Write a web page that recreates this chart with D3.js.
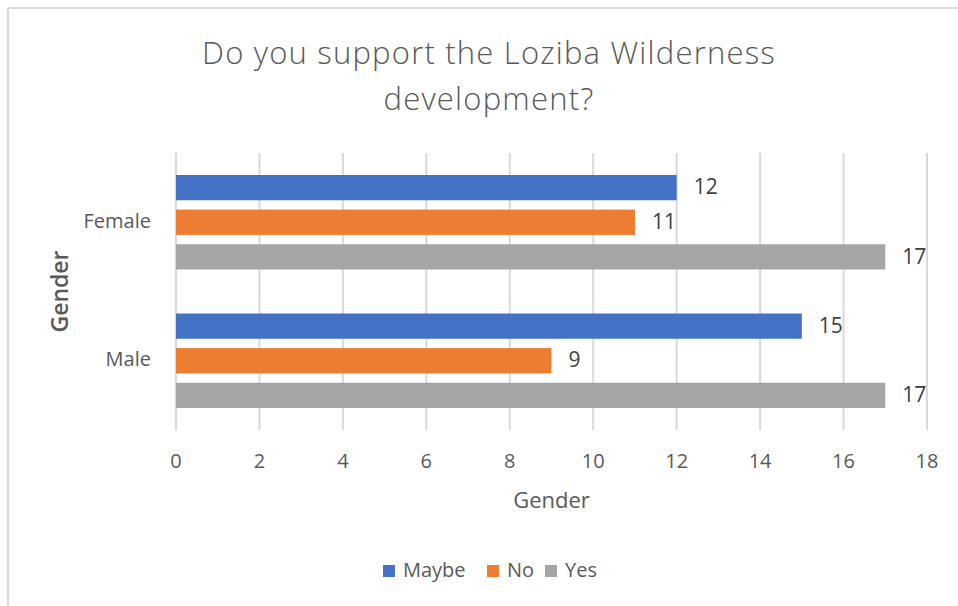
<!DOCTYPE html>
<html>
<head>
<meta charset="utf-8">
<script src="https://cdn.jsdelivr.net/npm/d3@7"></script>
<style>
  body { margin: 0; background: #fff; }
  text { font-family: "Open Sans", sans-serif; fill: #595959; }
</style>
</head>
<body>
<div id="chart"></div>
<script>
// data
var categories = ["Female", "Male"]
var seriesNames = ["Maybe", "No", "Yes"]
var maybeValues = [12, 15]
var noValues = [11, 9]
var yesValues = [17, 17]
var xTicks = [0, 2, 4, 6, 8, 10, 12, 14, 16, 18]
var colors = ["#4472C4", "#ED7D31", "#A5A5A5"]

var width = 958
var height = 606
var margin = { top: 153, right: 31, bottom: 176, left: 176 }

var svg = d3.select("#chart")
    .append("svg")
    .attr("width", width)
    .attr("height", height)

svg.append("rect").attr("width", width).attr("height", height).style("fill", "#fff")

// frame (only top + left edges visible)
svg.append("line").attr("x1", 8).attr("x2", width).attr("y1", 8).attr("y2", 8)
    .style("stroke", "#d9d9d9").style("stroke-width", 2)
svg.append("line").attr("x1", 8).attr("x2", 8).attr("y1", 8).attr("y2", height)
    .style("stroke", "#d9d9d9").style("stroke-width", 2)

// title
var title = svg.append("text")
    .attr("text-anchor", "middle")
    .style("font-size", "31px")
    .style("font-weight", 300)
    .style("letter-spacing", "1.2px")
title.append("tspan").attr("x", 489).attr("y", 64).text("Do you support the Loziba Wilderness")
title.append("tspan").attr("x", 489).attr("y", 110).text("development?")

var x = d3.scaleLinear()
    .domain([0, 18])
    .range([margin.left, width - margin.right])

var y0 = d3.scaleBand()
    .domain(categories)
    .range([margin.top, height - margin.bottom])
    .padding(0)

var y1 = d3.scaleBand()
    .domain(seriesNames)
    .range([0, y0.bandwidth()])
    .paddingInner(0.27)
    .paddingOuter(0.635)

var color = d3.scaleOrdinal().domain(seriesNames).range(colors)

// gridlines
svg.append("g")
    .selectAll("line")
    .data(xTicks)
    .enter()
    .append("line")
    .attr("x1", function (d) { return x(d) })
    .attr("x2", function (d) { return x(d) })
    .attr("y1", margin.top)
    .attr("y2", height - margin.bottom)
    .style("stroke", "#d9d9d9")
    .style("stroke-width", 2)

// tick labels
svg.append("g")
    .selectAll("text")
    .data(xTicks)
    .enter()
    .append("text")
    .attr("x", function (d) { return x(d) })
    .attr("y", 468)
    .attr("text-anchor", "middle")
    .style("font-size", "20px")
    .text(function (d) { return d })

// category labels
svg.append("g")
    .selectAll("text")
    .data(categories)
    .enter()
    .append("text")
    .attr("x", 151)
    .attr("y", function (d) { return y0(d) + y0.bandwidth() / 2 })
    .attr("text-anchor", "end")
    .attr("dominant-baseline", "middle")
    .style("font-size", "20px")
    .text(function (d) { return d })

// bars
var rows = []
categories.forEach(function (c, i) {
    rows.push({ cat: c, series: "Maybe", value: maybeValues[i] })
    rows.push({ cat: c, series: "No", value: noValues[i] })
    rows.push({ cat: c, series: "Yes", value: yesValues[i] })
})

svg.append("g")
    .selectAll("rect")
    .data(rows)
    .enter()
    .append("rect")
    .attr("x", x(0))
    .attr("y", function (d) { return y0(d.cat) + y1(d.series) })
    .attr("width", function (d) { return x(d.value) - x(0) })
    .attr("height", y1.bandwidth())
    .style("fill", function (d) { return color(d.series) })

// value labels
svg.append("g")
    .selectAll("text")
    .data(rows)
    .enter()
    .append("text")
    .attr("x", function (d) { return x(d.value) + 17 })
    .attr("y", function (d) { return y0(d.cat) + y1(d.series) + y1.bandwidth() / 2 + 1 })
    .attr("dominant-baseline", "middle")
    .style("font-size", "21px")
    .style("fill", "#404040")
    .text(function (d) { return d.value })

// axis titles
svg.append("text")
    .attr("x", (x(0) + x(18)) / 2)
    .attr("y", 508)
    .attr("text-anchor", "middle")
    .style("font-size", "22px")
    .text("Gender")

svg.append("text")
    .attr("transform", "translate(68," + (y0.range()[0] + y0.range()[1]) / 2 + ") rotate(-90)")
    .attr("text-anchor", "middle")
    .style("font-size", "23px")
    .style("font-weight", 600)
    .text("Gender")

// legend
var legendX = [383, 487, 545]
var legend = svg.append("g")
    .selectAll("g")
    .data(seriesNames)
    .enter()
    .append("g")
    .attr("transform", function (d, i) { return "translate(" + legendX[i] + ",565)" })

legend.append("rect")
    .attr("width", 12)
    .attr("height", 12)
    .style("fill", function (d) { return color(d) })

legend.append("text")
    .attr("x", 20)
    .attr("y", 7)
    .attr("dominant-baseline", "middle")
    .style("font-size", "20px")
    .text(function (d) { return d })
</script>
</body>
</html>
